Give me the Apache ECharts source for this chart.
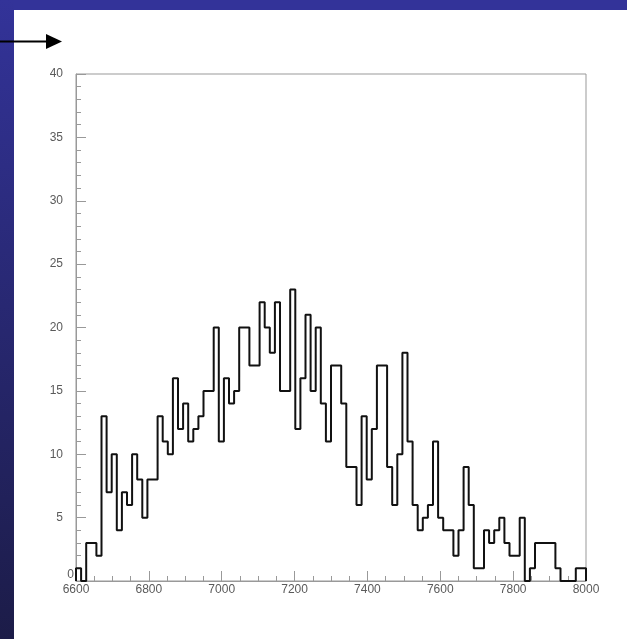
<!DOCTYPE html>
<html>
<head>
<meta charset="utf-8">
<style>
  html, body { margin: 0; padding: 0; background: #ffffff; }
  #chart { width: 627px; height: 639px; }
</style>
<script src="https://cdn.jsdelivr.net/npm/echarts@6/dist/echarts.min.js"></script>
</head>
<body>
<div id="chart"></div>
<script>
// Histogram: 100 bins of width 14 from 6600 to 8000
const binStart = 6600;
const binWidth = 14;
const counts = [
  1, 0, 3, 3, 2, 13, 7, 10, 4, 7,
  6, 10, 8, 5, 8, 8, 13, 11, 10, 16,
  12, 14, 11, 12, 13, 15, 15, 20, 11, 16,
  14, 15, 20, 20, 17, 17, 22, 20, 18, 22,
  15, 15, 23, 12, 16, 21, 15, 20, 14, 11,
  17, 17, 14, 9, 9, 6, 13, 8, 12, 17,
  17, 9, 6, 10, 18, 11, 6, 4, 5, 6,
  11, 5, 4, 4, 2, 4, 9, 6, 1, 1,
  4, 3, 4, 5, 3, 2, 2, 5, 0, 1,
  3, 3, 3, 3, 1, 0, 0, 0, 1, 1
];
const xTicks = [6600, 6800, 7000, 7200, 7400, 7600, 7800, 8000];
const yTicks = [0, 5, 10, 15, 20, 25, 30, 35, 40];

// build step outline points from bin edges
const stepData = [[binStart, 0]];
counts.forEach((c, i) => stepData.push([binStart + i * binWidth, c]));
const lastEdge = binStart + counts.length * binWidth;
stepData.push([lastEdge, counts[counts.length - 1]]);
stepData.push([lastEdge, 0]);

const labelStyle = { color: '#5a5a5a', fontSize: 12, fontFamily: 'Liberation Sans, Arial, sans-serif' };

const chart = echarts.init(document.getElementById('chart'), null, { renderer: 'canvas' });
chart.setOption({
  animation: false,
  backgroundColor: '#ffffff',
  grid: {
    left: 76, right: 41, top: 74, bottom: 58,
    show: true, borderColor: '#999', borderWidth: 1
  },
  xAxis: {
    type: 'value',
    min: xTicks[0], max: xTicks[xTicks.length - 1], interval: 200,
    axisLine: { show: true, lineStyle: { color: '#999', width: 1 } },
    axisTick: { show: true, inside: true, length: 10, lineStyle: { color: '#999' } },
    minorTick: { show: true, splitNumber: 4, length: 5, lineStyle: { color: '#999' } },
    splitLine: { show: false },
    axisLabel: Object.assign({ margin: 3, formatter: v => String(v) }, labelStyle)
  },
  yAxis: [{
    type: 'value',
    min: yTicks[0], max: yTicks[yTicks.length - 1], interval: 5,
    axisLine: { show: true, lineStyle: { color: '#999', width: 1 } },
    axisTick: { show: true, inside: true, length: 10, lineStyle: { color: '#999' } },
    minorTick: { show: true, splitNumber: 5, length: 5, lineStyle: { color: '#999' } },
    splitLine: { show: false },
    axisLabel: Object.assign({ margin: 13, formatter: v => (v === 0 ? '' : String(v)) }, labelStyle)
  }, {
    type: 'value', position: 'left',
    min: yTicks[0], max: yTicks[yTicks.length - 1], interval: 5,
    axisLine: { show: false }, axisTick: { show: false }, splitLine: { show: false },
    axisLabel: Object.assign({ margin: 2, verticalAlign: 'bottom', formatter: v => (v === 0 ? '0' : '') }, labelStyle)
  }],
  graphic: [
    { type: 'rect', shape: { x: 0, y: 0, width: 627, height: 10 }, style: { fill: '#333399' }, silent: true },
    { type: 'rect', shape: { x: 0, y: 0, width: 14, height: 639 },
      style: { fill: new echarts.graphic.LinearGradient(0, 0, 0, 1, [
        { offset: 0, color: '#333399' }, { offset: 1, color: '#1c1c48' }]) }, silent: true },
    { type: 'line', shape: { x1: 0, y1: 41.5, x2: 48, y2: 41.5 }, style: { stroke: '#000', lineWidth: 2 }, silent: true },
    { type: 'polygon', shape: { points: [[46, 34], [62, 41.5], [46, 49]] }, style: { fill: '#000' }, silent: true }
  ],
  series: [{
    type: 'line',
    step: 'end',
    data: stepData,
    showSymbol: false,
    lineStyle: { color: '#111', width: 2 },
    clip: false
  }]
});
</script>
</body>
</html>
